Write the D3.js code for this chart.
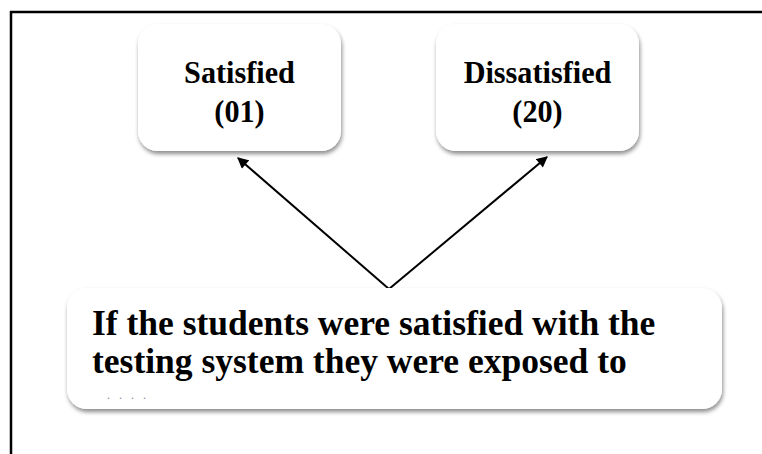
<!DOCTYPE html>
<html lang="en">
<head>
    <meta charset="UTF-8">
    <script src="https://d3js.org/d3.v7.min.js"></script>
    <title>Satisfaction diagram</title>
    <style>
        body { margin: 0; background: #fff; }
    </style>
</head>
<body>
<svg width="762" height="454" id="canvas"></svg>
<script>
    // Data for the diagram
    const categories = ["Satisfied", "Dissatisfied"];
    const counts = ["01", "20"];
    const questionLines = [
        "If the students were satisfied with the",
        "testing system they were exposed to"
    ];

    const svg = d3.select("#canvas");

    // soft drop shadow for the boxes
    const defs = svg.append("defs");
    defs.append("filter")
        .attr("id", "shadow")
        .attr("x", "-10%").attr("y", "-10%")
        .attr("width", "120%").attr("height", "130%")
        .append("feDropShadow")
        .attr("dx", 1).attr("dy", 3)
        .attr("stdDeviation", 2)
        .attr("flood-color", "#000")
        .attr("flood-opacity", 0.45);

    defs.append("marker")
        .attr("id", "head")
        .attr("viewBox", "0 0 10 10")
        .attr("refX", 9).attr("refY", 5)
        .attr("markerWidth", 12).attr("markerHeight", 11)
        .attr("markerUnits", "userSpaceOnUse")
        .attr("orient", "auto")
        .append("path")
        .attr("d", "M0,0 L10,5 L0,10 z")
        .style("fill", "#000");

    // frame lines (top and left only)
    svg.append("line")
        .attr("x1", 10).attr("y1", 12).attr("x2", 762).attr("y2", 12)
        .style("stroke", "#000").style("stroke-width", 2.5);
    svg.append("line")
        .attr("x1", 11).attr("y1", 11).attr("x2", 11).attr("y2", 454)
        .style("stroke", "#000").style("stroke-width", 2.5);

    // box centres along x
    const x = d3.scalePoint()
        .domain(categories)
        .range([239.5, 537.5]);

    const boxW = 203, boxTop = 24, boxH = 127;
    const apex = { x: 389, y: 289 };

    // arrows from the question up to each answer box
    const tips = { "Satisfied": [238, 158], "Dissatisfied": [547, 157] };
    svg.selectAll("line.arrow")
        .data(categories)
        .enter()
        .append("line")
        .attr("class", "arrow")
        .attr("x1", apex.x).attr("y1", apex.y)
        .attr("x2", d => tips[d][0])
        .attr("y2", d => tips[d][1])
        .style("stroke", "#000")
        .style("stroke-width", 2)
        .attr("marker-end", "url(#head)");

    // answer boxes
    const boxes = svg.selectAll("g.answer")
        .data(categories)
        .enter()
        .append("g")
        .attr("class", "answer");

    boxes.append("rect")
        .attr("x", d => x(d) - boxW / 2)
        .attr("y", boxTop)
        .attr("width", boxW)
        .attr("height", boxH)
        .attr("rx", 20)
        .style("fill", "#fff")
        .attr("filter", "url(#shadow)");

    // labels are a little condensed in the original
    boxes.append("text")
        .attr("transform", d => `translate(${x(d)},83) scale(0.93,1)`)
        .attr("text-anchor", "middle")
        .style("font-family", "'Liberation Serif', serif")
        .style("font-weight", "bold")
        .style("font-size", "32.5px")
        .text(d => d);

    boxes.append("text")
        .attr("transform", d => `translate(${x(d)},122) scale(0.93,1)`)
        .attr("text-anchor", "middle")
        .style("font-family", "'Liberation Serif', serif")
        .style("font-weight", "bold")
        .style("font-size", "32.5px")
        .text((d, i) => "(" + counts[i] + ")");

    // question box
    svg.append("rect")
        .attr("x", 67).attr("y", 288)
        .attr("width", 655).attr("height", 121)
        .attr("rx", 20)
        .style("fill", "#fff")
        .attr("filter", "url(#shadow)");

    svg.selectAll("text.question")
        .data(questionLines)
        .enter()
        .append("text")
        .attr("class", "question")
        .attr("x", 92)
        .attr("y", (d, i) => 335 + i * 38)
        .style("font-family", "'Liberation Serif', serif")
        .style("font-weight", "bold")
        .style("font-size", "35.5px")
        .text(d => d);

    // faint remains of a cut-off third line
    svg.append("text")
        .attr("x", 107).attr("y", 399)
        .style("font-family", "'Liberation Serif', serif")
        .style("font-size", "12px")
        .style("fill", "#888")
        .style("letter-spacing", "3px")
        .text(". . . .");
</script>
</body>
</html>
